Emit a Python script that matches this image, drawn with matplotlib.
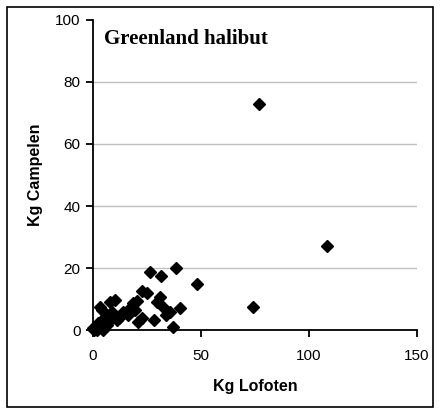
import matplotlib
matplotlib.use("Agg")
import matplotlib.pyplot as plt
from matplotlib.patches import Rectangle

# catch per haul, Lofoten trawl vs Campelen trawl (kg)
kg_lofoten = [77, 108.5, 74, 48, 38.5, 26.5, 31.5, 40.3, 37.2, 35.6, 28.2,
              31, 29.5, 32.6, 22.5, 24.8, 21, 22.5, 18.7, 17.1, 14, 19.4,
              10.2, 7.9, 3.2, 4, 8.7, 11, 7.9, 5.6, 6.3, 2.5, 0, 1.7, 4.8,
              3.2, 0.5, 12, 16, 20.5, 34, 9, 1]
kg_campelen = [73, 27.2, 7.5, 15, 19.9, 18.8, 17.5, 7, 1.1, 5.9, 3.2,
               10.8, 9.1, 7.5, 12.7, 11.8, 2.7, 3.8, 8.6, 7, 5.9, 6.5,
               9.7, 9.1, 7.5, 6.5, 5.9, 3.2, 3.2, 4.3, 1.6, 2.2, 0.5, 0, 0,
               1.1, 0, 4, 5, 9.5, 5, 4.5, 0.2]

x_ticks = [0, 50, 100, 150]
y_ticks = [0, 20, 40, 60, 80, 100]

fig = plt.figure(figsize=(4.4, 4.12), dpi=100)
ax = fig.add_axes([0.2114, 0.199, 0.7363, 0.7525])

for y in y_ticks[1:-1]:
    ax.axhline(y, color="#c0c0c0", lw=1, zorder=0)

ax.plot(kg_lofoten, kg_campelen, "D", color="black", ms=6, ls="none",
        clip_on=False, zorder=3)

ax.set_xlim(0, 150)
ax.set_ylim(0, 100)
ax.set_xticks(x_ticks)
ax.set_yticks(y_ticks)
for s in ["top", "right"]:
    ax.spines[s].set_visible(False)
for s in ["left", "bottom"]:
    ax.spines[s].set_linewidth(1.3)
ax.tick_params(direction="out", length=5, width=1.3, labelsize=11)
ax.tick_params(axis="x", pad=9)
ax.tick_params(axis="y", pad=4)
for lab in ax.get_xticklabels() + ax.get_yticklabels():
    lab.set_fontfamily("Liberation Sans")

ax.set_xlabel("Kg Lofoten", fontsize=11.5, fontweight="bold",
              fontfamily="Liberation Sans", labelpad=11)
ax.set_ylabel("Kg Campelen", fontsize=11.5, fontweight="bold",
              fontfamily="Liberation Sans", labelpad=9)

ax.text(0.035, 0.94, "Greenland halibut", transform=ax.transAxes,
        fontsize=15, fontweight="bold", fontfamily="Liberation Serif",
        va="center", ha="left")

fig.patches.append(Rectangle((0.0159, 0.0121), 0.968, 0.971, fill=False,
                             edgecolor="black", lw=1.2,
                             transform=fig.transFigure, figure=fig))

fig.savefig("out.png", dpi=100)
